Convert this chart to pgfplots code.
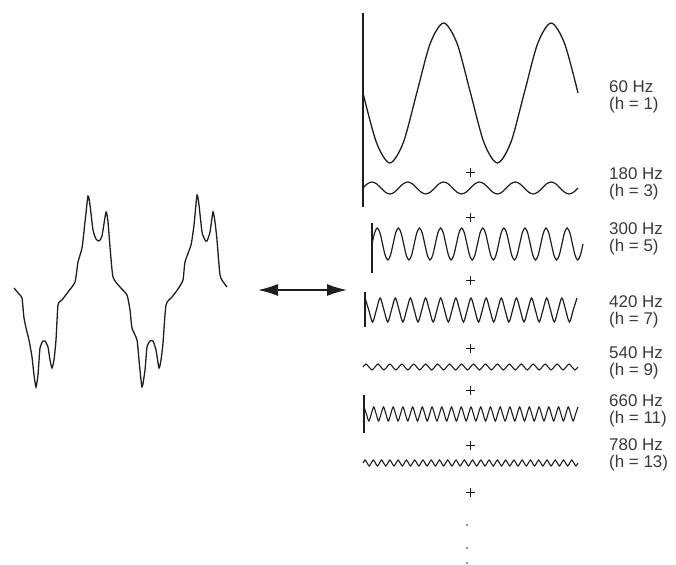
\documentclass[border=0pt]{standalone}
\usepackage{pgfplots}
\pgfplotsset{compat=1.18}
\usepackage{fontspec}
\setmainfont{Liberation Sans}
\usetikzlibrary{arrows.meta}
\definecolor{ink}{HTML}{1E1E1E}
\definecolor{txt}{HTML}{3A3A3A}
\begin{document}
\begin{tikzpicture}
\useasboundingbox (0bp,0bp) rectangle (676bp,565bp);
\pgfplotsset{wave/.style={scale only axis, hide axis, clip=false, anchor=south west, ymin=-1, ymax=1}}
% main canvas axis, image coordinates
\begin{axis}[at={(0bp,0bp)}, anchor=south west, width=676bp, height=565bp, scale only axis, hide axis, clip=false,
  xmin=0, xmax=676, ymin=0, ymax=565, y dir=reverse]
% distorted waveform
\addplot[ink, line width=1.3bp, smooth, tension=0.35] coordinates {
(14,288)(19,294)(22,298)(24,318)(27,332)(29,340)(32,357)(34,375)(36,387)(38,375)(40,348)(43,341)(45,341)(48,347)(50,360)(52,368)(54,360)(56,340)(58,305)(62,300)(68,292)(75,282)(78,262)(82,248)(85,222)(88,196)(90,205)(93,230)(96,239)(99,241)(102,236)(106,212)(108,222)(110,247)(113,277)(120,287)(127,295)(130,310)(132,328)(137,340)(139,360)(142,387)(145,370)(147,347)(150,341)(153,341)(156,350)(159,368)(161,360)(163,343)(166,305)(172,297)(178,289)(183,280)(185,262)(191,245)(194,225)(197,195)(199,205)(202,232)(205,240)(207,241)(210,232)(213,212)(215,222)(217,240)(220,275)(224,283)(227,287)};
% double arrow
\addplot[ink, line width=1.5bp, {Latex[length=20bp,width=12bp]}-{Latex[length=20bp,width=12bp]}] coordinates {(258,290)(347,290)};
% vertical reference lines
\addplot[ink, line width=1.4bp] coordinates {(363,13)(363,207)};
\addplot[ink, line width=1.4bp] coordinates {(372,223)(372,273)};
\addplot[ink, line width=1.4bp] coordinates {(365,292)(365,327)};
\addplot[ink, line width=1.4bp] coordinates {(364,395)(364,433)};
% plus signs
\addplot[ink, only marks, mark=+, mark size=4.5bp, line width=1bp] coordinates {(470,172)(470,217)(470,280)(470,348)(470,390)(470,445)(470,492)};
% continuation dots
\addplot[gray, only marks, mark=*, mark size=0.8bp] coordinates {(467,525)(467,548)(467,563)};
% labels
\begin{scope}[every node/.style={anchor=west, align=left, text=txt, inner sep=0pt, font=\fontsize{17}{17.5}\selectfont}]
\node at (axis cs:609,97) {60 Hz\\(h = 1)};
\node at (axis cs:609,184) {180 Hz\\(h = 3)};
\node at (axis cs:609,239) {300 Hz\\(h = 5)};
\node at (axis cs:609,312) {420 Hz\\(h = 7)};
\node at (axis cs:609,363) {540 Hz\\(h = 9)};
\node at (axis cs:609,411) {660 Hz\\(h = 11)};
\node at (axis cs:609,455) {780 Hz\\(h = 13)};
\end{scope}
\end{axis}
% 60 Hz (h = 1)
\begin{axis}[wave, at={(363bp,402bp)}, width=215bp, height=140bp, xmin=0, xmax=16]
\addplot[ink, line width=1.3bp, smooth] coordinates {
(0,0)(1,-.707)(2,-1)(3,-.707)(4,0)(5,.707)(6,1)(7,.707)
(8,0)(9,-.707)(10,-1)(11,-.707)(12,0)(13,.707)(14,1)(15,.707)(16,0)};
\end{axis}
% 180 Hz (h = 3)
\begin{axis}[wave, at={(363bp,371bp)}, width=215bp, height=12bp, xmin=0, xmax=48]
\addplot[ink, line width=1.2bp, smooth] coordinates {
(0,0)(1,.707)(2,1)(3,.707)(4,0)(5,-.707)(6,-1)(7,-.707)
(8,0)(9,.707)(10,1)(11,.707)(12,0)(13,-.707)(14,-1)(15,-.707)
(16,0)(17,.707)(18,1)(19,.707)(20,0)(21,-.707)(22,-1)(23,-.707)
(24,0)(25,.707)(26,1)(27,.707)(28,0)(29,-.707)(30,-1)(31,-.707)
(32,0)(33,.707)(34,1)(35,.707)(36,0)(37,-.707)(38,-1)(39,-.707)
(40,0)(41,.707)(42,1)(43,.707)(44,0)(45,-.707)(46,-1)(47,-.707)
(48,0)};
\end{axis}
% 300 Hz (h = 5)
\begin{axis}[wave, at={(372bp,305bp)}, width=211bp, height=32bp, xmin=0, xmax=80]
\addplot[ink, line width=1.2bp, smooth] coordinates {
(0,0)(1,.707)(2,1)(3,.707)(4,0)(5,-.707)(6,-1)(7,-.707)
(8,0)(9,.707)(10,1)(11,.707)(12,0)(13,-.707)(14,-1)(15,-.707)
(16,0)(17,.707)(18,1)(19,.707)(20,0)(21,-.707)(22,-1)(23,-.707)
(24,0)(25,.707)(26,1)(27,.707)(28,0)(29,-.707)(30,-1)(31,-.707)
(32,0)(33,.707)(34,1)(35,.707)(36,0)(37,-.707)(38,-1)(39,-.707)
(40,0)(41,.707)(42,1)(43,.707)(44,0)(45,-.707)(46,-1)(47,-.707)
(48,0)(49,.707)(50,1)(51,.707)(52,0)(53,-.707)(54,-1)(55,-.707)
(56,0)(57,.707)(58,1)(59,.707)(60,0)(61,-.707)(62,-1)(63,-.707)
(64,0)(65,.707)(66,1)(67,.707)(68,0)(69,-.707)(70,-1)(71,-.707)
(72,0)(73,.707)(74,1)(75,.707)(76,0)(77,-.707)(78,-1)(79,-.707)
(80,0)};
\end{axis}
% 420 Hz (h = 7)
\begin{axis}[wave, at={(365bp,243bp)}, width=212bp, height=24bp, xmin=0, xmax=56]
\addplot[ink, line width=1.2bp, smooth] coordinates {
(0,1)(1,0)(2,-1)(3,0)(4,1)(5,0)(6,-1)(7,0)(8,1)(9,0)(10,-1)(11,0)
(12,1)(13,0)(14,-1)(15,0)(16,1)(17,0)(18,-1)(19,0)(20,1)(21,0)(22,-1)(23,0)
(24,1)(25,0)(26,-1)(27,0)(28,1)(29,0)(30,-1)(31,0)(32,1)(33,0)(34,-1)(35,0)
(36,1)(37,0)(38,-1)(39,0)(40,1)(41,0)(42,-1)(43,0)(44,1)(45,0)(46,-1)(47,0)
(48,1)(49,0)(50,-1)(51,0)(52,1)(53,0)(54,-1)(55,0)(56,1)};
\end{axis}
% 540 Hz (h = 9)
\begin{axis}[wave, at={(363bp,195bp)}, width=215bp, height=6bp, xmin=0, xmax=72]
\addplot[ink, line width=1.1bp, smooth] coordinates {
(0,0)(1,1)(2,0)(3,-1)(4,0)(5,1)(6,0)(7,-1)(8,0)(9,1)(10,0)(11,-1)
(12,0)(13,1)(14,0)(15,-1)(16,0)(17,1)(18,0)(19,-1)(20,0)(21,1)(22,0)(23,-1)
(24,0)(25,1)(26,0)(27,-1)(28,0)(29,1)(30,0)(31,-1)(32,0)(33,1)(34,0)(35,-1)
(36,0)(37,1)(38,0)(39,-1)(40,0)(41,1)(42,0)(43,-1)(44,0)(45,1)(46,0)(47,-1)
(48,0)(49,1)(50,0)(51,-1)(52,0)(53,1)(54,0)(55,-1)(56,0)(57,1)(58,0)(59,-1)
(60,0)(61,1)(62,0)(63,-1)(64,0)(65,1)(66,0)(67,-1)(68,0)(69,1)(70,0)(71,-1)
(72,0)};
\end{axis}
% 660 Hz (h = 11)
\begin{axis}[wave, at={(364bp,144bp)}, width=214bp, height=14bp, xmin=0, xmax=88]
\addplot[ink, line width=1.1bp, smooth] coordinates {
(0,1)(1,0)(2,-1)(3,0)(4,1)(5,0)(6,-1)(7,0)(8,1)(9,0)(10,-1)(11,0)
(12,1)(13,0)(14,-1)(15,0)(16,1)(17,0)(18,-1)(19,0)(20,1)(21,0)(22,-1)(23,0)
(24,1)(25,0)(26,-1)(27,0)(28,1)(29,0)(30,-1)(31,0)(32,1)(33,0)(34,-1)(35,0)
(36,1)(37,0)(38,-1)(39,0)(40,1)(41,0)(42,-1)(43,0)(44,1)(45,0)(46,-1)(47,0)
(48,1)(49,0)(50,-1)(51,0)(52,1)(53,0)(54,-1)(55,0)(56,1)(57,0)(58,-1)(59,0)
(60,1)(61,0)(62,-1)(63,0)(64,1)(65,0)(66,-1)(67,0)(68,1)(69,0)(70,-1)(71,0)
(72,1)(73,0)(74,-1)(75,0)(76,1)(77,0)(78,-1)(79,0)(80,1)(81,0)(82,-1)(83,0)
(84,1)(85,0)(86,-1)(87,0)(88,1)};
\end{axis}
% 780 Hz (h = 13)
\begin{axis}[wave, at={(363bp,99bp)}, width=215bp, height=6bp, xmin=0, xmax=104]
\addplot[ink, line width=1.1bp, smooth] coordinates {
(0,0)(1,1)(2,0)(3,-1)(4,0)(5,1)(6,0)(7,-1)(8,0)(9,1)(10,0)(11,-1)
(12,0)(13,1)(14,0)(15,-1)(16,0)(17,1)(18,0)(19,-1)(20,0)(21,1)(22,0)(23,-1)
(24,0)(25,1)(26,0)(27,-1)(28,0)(29,1)(30,0)(31,-1)(32,0)(33,1)(34,0)(35,-1)
(36,0)(37,1)(38,0)(39,-1)(40,0)(41,1)(42,0)(43,-1)(44,0)(45,1)(46,0)(47,-1)
(48,0)(49,1)(50,0)(51,-1)(52,0)(53,1)(54,0)(55,-1)(56,0)(57,1)(58,0)(59,-1)
(60,0)(61,1)(62,0)(63,-1)(64,0)(65,1)(66,0)(67,-1)(68,0)(69,1)(70,0)(71,-1)
(72,0)(73,1)(74,0)(75,-1)(76,0)(77,1)(78,0)(79,-1)(80,0)(81,1)(82,0)(83,-1)
(84,0)(85,1)(86,0)(87,-1)(88,0)(89,1)(90,0)(91,-1)(92,0)(93,1)(94,0)(95,-1)
(96,0)(97,1)(98,0)(99,-1)(100,0)(101,1)(102,0)(103,-1)(104,0)};
\end{axis}
\end{tikzpicture}
\end{document}
